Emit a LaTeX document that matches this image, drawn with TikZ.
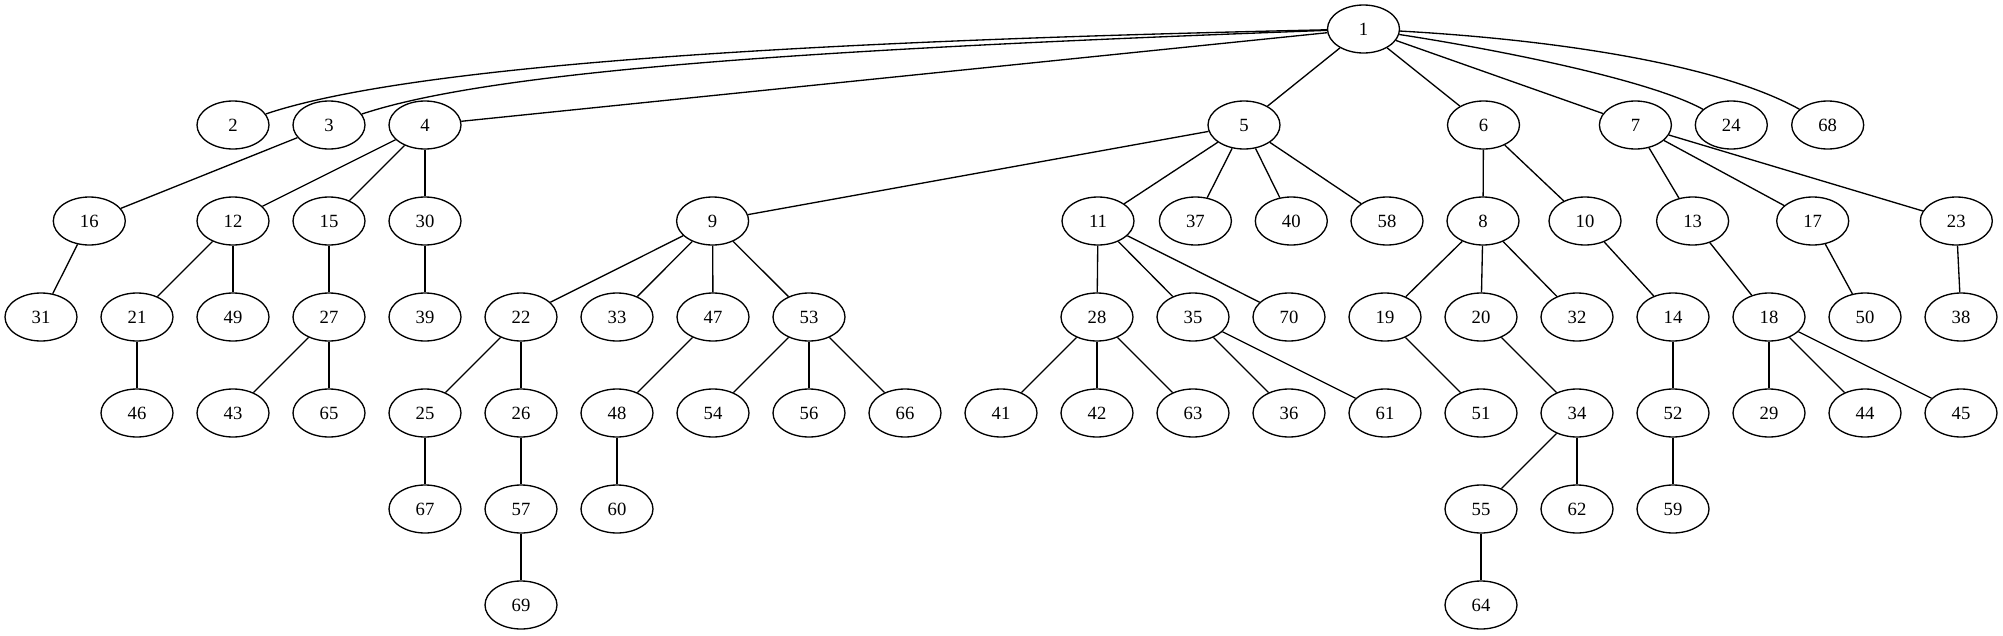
\documentclass[tikz,border=0pt]{standalone}
\usepackage{fontspec}
\setmainfont{Liberation Serif}
\usetikzlibrary{shapes.geometric}
\tikzset{
  vx/.style={draw, ellipse, line width=1.33pt, minimum width=72pt, minimum height=48pt, inner sep=0pt,
    font=\fontsize{18.67}{20}\selectfont},
  ed/.style={line width=1.33pt}
}
\begin{document}
\begin{tikzpicture}[x=1pt, y=-1pt]
\useasboundingbox (0,0) rectangle (2003,635);
\foreach \n/\x/\l in {
 1/1363.5/0,
 2/233/1, 3/329/1, 4/425/1, 5/1244/1, 6/1483.5/1, 7/1635.4/1, 24/1731.3/1, 68/1827.7/1,
 16/89.3/2, 12/233/2, 15/329/2, 30/425/2, 9/712.6/2, 11/1098/2, 37/1195.4/2, 40/1291.3/2, 58/1387/2,
 8/1483/2, 10/1585/2, 13/1692.6/2, 17/1812.7/2, 23/1956.3/2,
 31/41/3, 21/137/3, 49/233/3, 27/329/3, 39/425/3, 22/521/3, 33/617/3, 47/713/3, 53/809/3,
 28/1097/3, 35/1193/3, 70/1289/3, 19/1385/3, 20/1481/3, 32/1577/3, 14/1673/3, 18/1769/3, 50/1865/3, 38/1961/3,
 46/137/4, 43/233/4, 65/329/4, 25/425/4, 26/521/4, 48/617/4, 54/713/4, 56/809/4, 66/905/4, 41/1001/4,
 42/1097/4, 63/1193/4, 36/1289/4, 61/1385/4, 51/1481/4, 34/1577/4, 52/1673/4, 29/1769/4, 44/1865/4, 45/1961/4,
 67/425/5, 57/521/5, 60/617/5, 55/1481/5, 62/1577/5, 59/1673/5,
 69/521/6, 64/1481/6}
 \node[vx] (n\n) at (\x, 29+96*\l) {\n};
% curved edges from 1
\draw[ed] (n1) .. controls (850,40) and (420,62) .. (n2);
\draw[ed] (n1) .. controls (850,48) and (500,68) .. (n3);
\draw[ed] (n1) .. controls (1500,50) and (1650,80) .. (n24);
\draw[ed] (n1) .. controls (1560,40) and (1720,65) .. (n68);
% straight edges
\foreach \a/\b in {1/4,1/5,1/6,1/7,
 3/16,4/12,4/15,4/30,
 5/9,5/11,5/37,5/40,5/58,
 6/8,6/10,
 7/13,7/17,7/23,
 16/31,12/21,12/49,15/27,30/39,
 9/22,9/33,9/47,9/53,
 11/28,11/35,11/70,
 8/19,8/20,8/32,
 10/14,13/18,17/50,23/38,
 21/46,27/43,27/65,
 22/25,22/26,47/48,53/54,53/56,53/66,
 28/41,28/42,28/63,35/36,35/61,
 19/51,20/34,14/52,18/29,18/44,18/45,
 25/67,26/57,48/60,34/55,34/62,52/59,
 57/69,55/64}
 \draw[ed] (n\a) -- (n\b);
\end{tikzpicture}
\end{document}
